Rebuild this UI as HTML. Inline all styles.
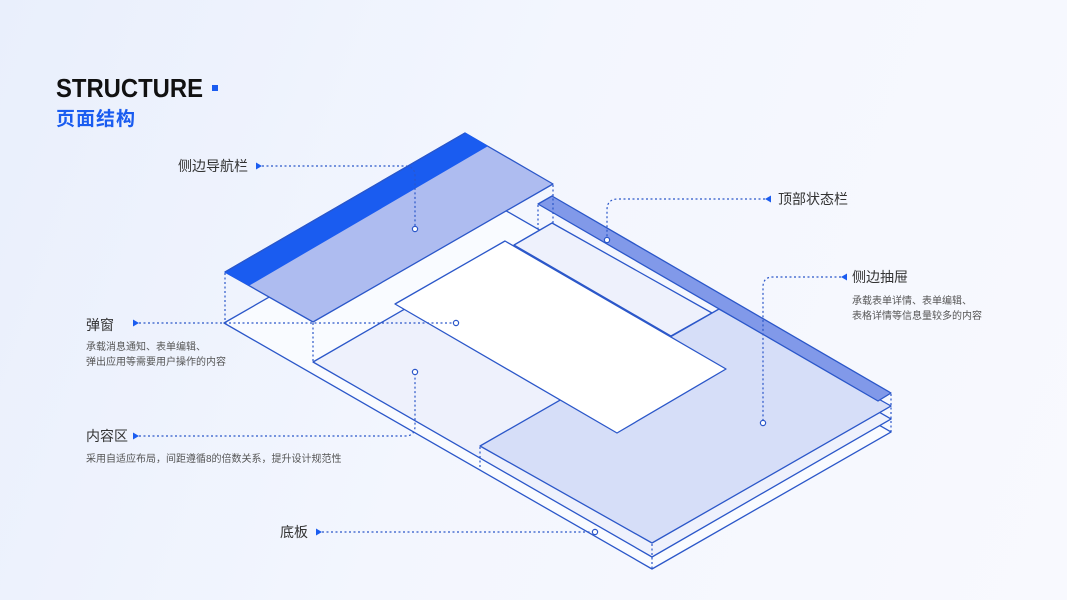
<!DOCTYPE html>
<html><head><meta charset="utf-8"><style>
html,body{margin:0;padding:0}
body{width:1067px;height:600px;overflow:hidden;background:linear-gradient(110deg,#e9effc 0%,#f3f6fe 45%,#f8f9fe 100%);font-family:"Liberation Sans","Noto Sans CJK SC",sans-serif}
svg{position:absolute;left:0;top:0}
text{font-family:"Liberation Sans","Noto Sans CJK SC",sans-serif}
</style></head><body>
<svg width="1067" height="600" viewBox="0 0 1067 600">
<g stroke="#2b57c9" stroke-width="1.3" stroke-linejoin="round">
<polygon points="224,323 463,186 891,432 652,569" fill="#f9fbff"/>
<polygon points="313,362 552,224 891,419 652,557" fill="#eef1fc"/>
<polygon points="514,245 552,223 712,313 671,336" fill="#eef1fc"/>
<polygon points="480,446 719,309 891,406 652,543" fill="#d6def8"/>
<polygon points="395,304 505,241 726,369 617,433" fill="#ffffff"/>
<polygon points="538,204 552,196 891,393 878,401" fill="#8199e9"/>
<polygon points="225,272 465,133 553,184 313,322" fill="#aebcf0"/>
<polygon points="225,272 465,133 487,146 249,285" fill="#1a5cf0" stroke="#1a5cf0"/>
<line x1="225" y1="272" x2="465" y2="133"/>
</g>
<g stroke="#2b57c9" stroke-width="1.2" stroke-dasharray="2,2.5" fill="none">
<line x1="225" y1="273" x2="225" y2="323"/>
<line x1="313" y1="323" x2="313" y2="362"/>
<line x1="553" y1="185" x2="553" y2="223"/>
<line x1="538" y1="205" x2="538" y2="232"/>
<line x1="480" y1="447" x2="480" y2="470"/>
<line x1="652" y1="544" x2="652" y2="569"/>
<line x1="891" y1="394" x2="891" y2="432"/>
<path d="M262,166 H405 Q415,166 415,176 V226"/>
<path d="M765,199 H618 Q607,199 607,210 V237"/>
<path d="M841,277 H773 Q763,277 763,287 V420"/>
<path d="M139,323 H452"/>
<path d="M139,436 H405 Q415,436 415,426 V375"/>
<path d="M322,532 H592"/>
</g>
<g stroke="#2b57c9" stroke-width="1.2" fill="#fff">
<circle cx="415" cy="229" r="2.6"/>
<circle cx="607" cy="240" r="2.6"/>
<circle cx="763" cy="423" r="2.6"/>
<circle cx="456" cy="323" r="2.6"/>
<circle cx="415" cy="372" r="2.6"/>
<circle cx="595" cy="532" r="2.6"/>
</g>
<g fill="#1a5cf0">
<polygon points="256,162.5 262,166 256,169.5"/>
<polygon points="771,195.5 765,199 771,202.5"/>
<polygon points="847,273.5 841,277 847,280.5"/>
<polygon points="133,319.5 139,323 133,326.5"/>
<polygon points="133,432.5 139,436 133,439.5"/>
<polygon points="316,528.5 322,532 316,535.5"/>
<rect x="212" y="85" width="6" height="6"/>
</g>
<text x="56" y="97" font-size="26" font-weight="bold" fill="#111" textLength="147" lengthAdjust="spacingAndGlyphs">STRUCTURE</text>
<text x="56" y="125" font-size="19" font-weight="bold" fill="#1a5cf0" letter-spacing="1">页面结构</text>
<g font-size="14" fill="#333">
<text x="248" y="171" text-anchor="end">侧边导航栏</text>
<text x="778" y="204">顶部状态栏</text>
<text x="852" y="282">侧边抽屉</text>
<text x="86" y="330">弹窗</text>
<text x="86" y="441">内容区</text>
<text x="280" y="537">底板</text>
</g>
<g font-size="10" fill="#555">
<text x="852" y="304">承载表单详情、表单编辑、</text>
<text x="852" y="319">表格详情等信息量较多的内容</text>
<text x="86" y="350">承载消息通知、表单编辑、</text>
<text x="86" y="365">弹出应用等需要用户操作的内容</text>
<text x="86" y="462">采用自适应布局，间距遵循8的倍数关系，提升设计规范性</text>
</g>
</svg>
</body></html>
